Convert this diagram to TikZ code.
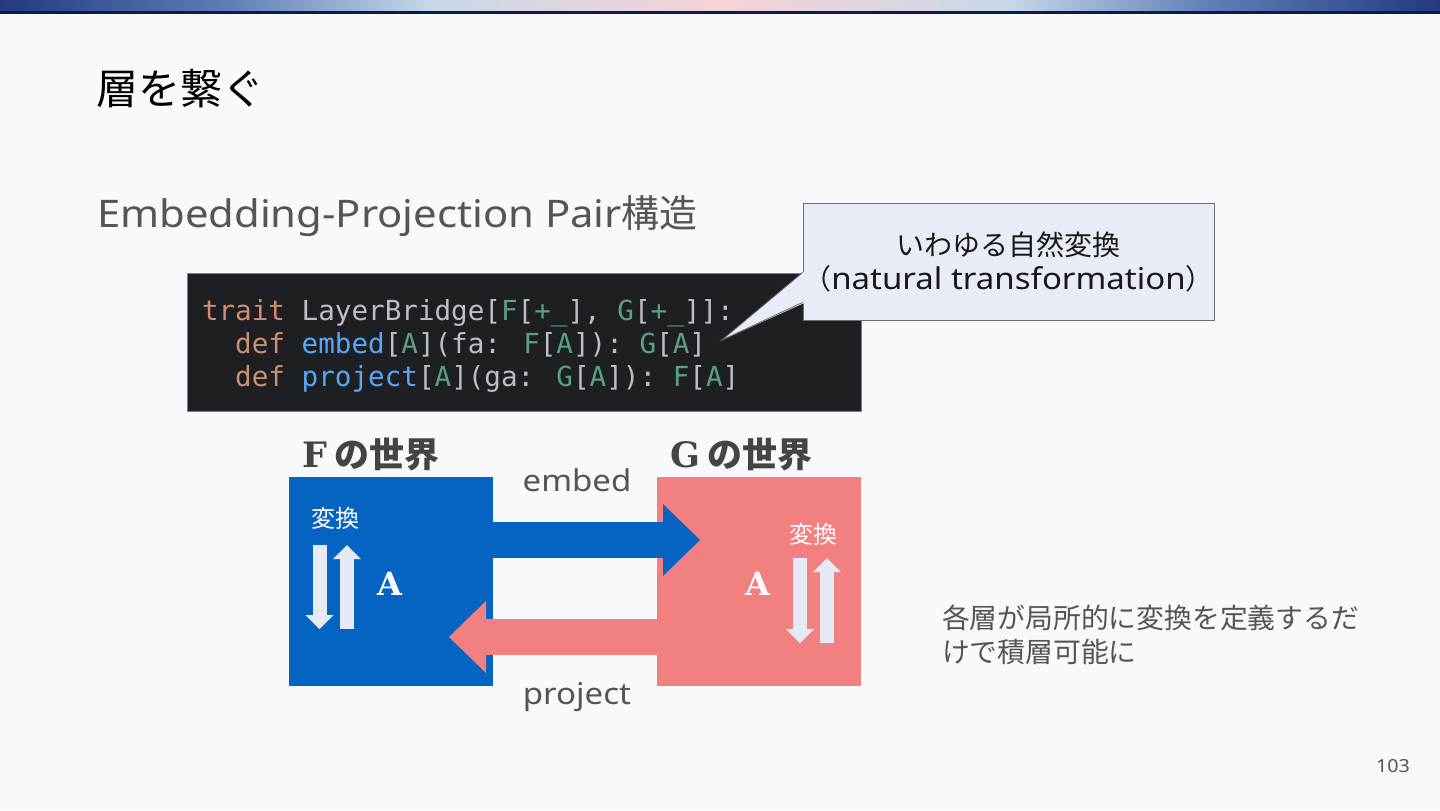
\documentclass[tikz,border=0pt]{standalone}
\usepackage{fontspec}
\setmainfont{Noto Sans CJK JP}
\newfontfamily\latinfont[FakeStretch=1.1]{Noto Sans}
\newfontfamily\codefont{DejaVu Sans Mono}
\newfontfamily\slabfont{DejaVu Serif}
\usetikzlibrary{arrows.meta}

\definecolor{pagebg}{HTML}{F8F9FC}
\definecolor{barA}{HTML}{24397F}
\definecolor{barB}{HTML}{5F7FB8}
\definecolor{barC}{HTML}{C9D8E8}
\definecolor{barD}{HTML}{F6D3D8}
\definecolor{barline}{HTML}{0E1B4D}
\definecolor{subgray}{HTML}{555555}
\definecolor{labelgray}{HTML}{444444}
\definecolor{codebg}{HTML}{1E1F22}
\definecolor{codeedge}{HTML}{7A7D84}
\definecolor{plain}{HTML}{BCBEC4}
\definecolor{kw}{HTML}{CF8E6D}
\definecolor{fn}{HTML}{56A8F5}
\definecolor{ty}{HTML}{5A9E8C}
\definecolor{notefill}{HTML}{E8ECF6}
\definecolor{noteedge}{HTML}{6E6E6E}
\definecolor{fblue}{HTML}{0563C1}
\definecolor{gred}{HTML}{F28080}
\definecolor{palearrow}{HTML}{E6EAF4}

\pgfdeclarehorizontalshading{topbar}{100bp}{color(0bp)=(barA); color(25bp)=(barA);
  color(33bp)=(barB); color(40bp)=(barC); color(50bp)=(barD); color(60bp)=(barC);
  color(67bp)=(barB); color(75bp)=(barA); color(100bp)=(barA)}

\newcommand{\kwd}[1]{\textcolor{kw}{#1}}
\newcommand{\fnm}[1]{\textcolor{fn}{#1}}
\newcommand{\tyv}[1]{\textcolor{ty}{#1}}

\tikzset{
  txt/.style={inner sep=0pt, outer sep=0pt},
  codeline/.style={txt, anchor=base west, text=plain, font=\codefont\fontsize{13.8}{16.5}\selectfont},
  world/.style={fill=#1, minimum width=102pt, minimum height=104.5pt, inner sep=0pt, outer sep=0pt},
  bigarrow/.style={draw=#1, line width=18pt, -{Triangle[length=18.5pt,width=36pt,line width=0pt]}},
  mini/.style={draw=palearrow, line width=7pt, -{Triangle[length=7pt,width=14pt,line width=0pt]}}
}

\begin{document}
\begin{tikzpicture}[x=0.5pt,y=-0.5pt]
\useasboundingbox (0,0) rectangle (1440,810);
\fill[pagebg] (0,0) rectangle (1440,810);
\shade[shading=topbar] (0,0) rectangle (1440,11);
\fill[barline] (0,11) rectangle (1440,13.5);

% headings
\node[txt, anchor=west, font=\fontsize{21}{25}\selectfont] (title) at (96,89) {層を繋ぐ};
\node[txt, anchor=west, text=subgray, font=\fontsize{19}{23}\selectfont] (sub) at (97,216) {{\latinfont Embedding-Projection Pair}構造};

% code
\node[fill=codebg, draw=codeedge, minimum width=337pt, minimum height=69pt, inner sep=0pt] (code) at (524,342) {};
\node[codeline] (codeA) at (202,320) {\kwd{trait} LayerBridge[\tyv{F}[\tyv{+\_}], \tyv{G}[\tyv{+\_}]]:};
\node[codeline] (codeB) at (202,353) {\phantom{xx}\kwd{def} \fnm{embed}[\tyv{A}](fa: \tyv{F}[\tyv{A}]): \tyv{G}[\tyv{A}]};
\node[codeline] (codeC) at (202,386) {\phantom{xx}\kwd{def} \fnm{project}[\tyv{A}](ga: \tyv{G}[\tyv{A}]): \tyv{F}[\tyv{A}]};

% callout
\node[fill=notefill, draw=noteedge, minimum width=205.5pt, minimum height=58.5pt, inner sep=0pt,
  align=center, text=black!90, font=\fontsize{14}{17}\selectfont] (note) at (1008.5,261.5)
  {いわゆる自然変換\\（{\latinfont\fontsize{15}{17}\selectfont natural transformation}）};
\coordinate (tip) at (722,340);
\fill[notefill] ([xshift=0.8pt,yshift=24.3pt]note.south west) -- (tip) -- ([xshift=0.8pt,yshift=8.7pt]note.south west) -- cycle;
\draw[noteedge] ([yshift=24pt]note.south west) -- (tip) -- ([yshift=9pt]note.south west);

% two worlds
\node[txt, anchor=west, text=labelgray, font=\bfseries\fontsize{17.5}{21}\selectfont] (flabel) at (302,455) {{\slabfont F} の世界};
\node[txt, anchor=west, text=labelgray, font=\bfseries\fontsize{17.5}{21}\selectfont] (glabel) at (670,455) {{\slabfont G} の世界};
\node[world=fblue] (fbox) at (391,581.5) {};
\node[world=gred] (gbox) at (759,581.5) {};

\draw[bigarrow=fblue] ([yshift=20.75pt]fbox.east) -- ([xshift=21.5pt,yshift=20.75pt]gbox.west);
\draw[bigarrow=gred] ([yshift=-27.75pt]gbox.west) -- ([xshift=-22pt,yshift=-27.75pt]fbox.east);
\node[txt, text=subgray, font=\latinfont\fontsize{15}{19}\selectfont] (embedlbl) at (577,480) {embed};
\node[txt, text=subgray, font=\latinfont\fontsize{15}{19}\selectfont] (projlbl) at (577,697) {project};

% transformations inside each world
\node[txt, text=white, font=\fontsize{12}{14}\selectfont] (fconv) at (335,518) {変換};
\node[txt, text=white, font=\fontsize{12}{14}\selectfont] (gconv) at (813,534) {変換};
\node[txt, text=white, font=\slabfont\bfseries\fontsize{16}{19}\selectfont] (fA) at (390,584) {A};
\node[txt, text=white, font=\slabfont\bfseries\fontsize{16}{19}\selectfont] (gA) at (758,584) {A};
\draw[mini] (319.5,545) -- (319.5,629);
\draw[mini] (347,629) -- (347,545);
\draw[mini] (800,558) -- (800,643);
\draw[mini] (827,643) -- (827,558);

% side note and page number
\node[txt, anchor=west, align=left, text=subgray, font=\fontsize{13.9}{17}\selectfont] (summary) at (942,635)
  {各層が局所的に変換を定義するだ\\けで積層可能に};
\node[txt, text=subgray, font=\latinfont\fontsize{9}{11}\selectfont] (pageno) at (1393,766) {103};
\end{tikzpicture}
\end{document}
